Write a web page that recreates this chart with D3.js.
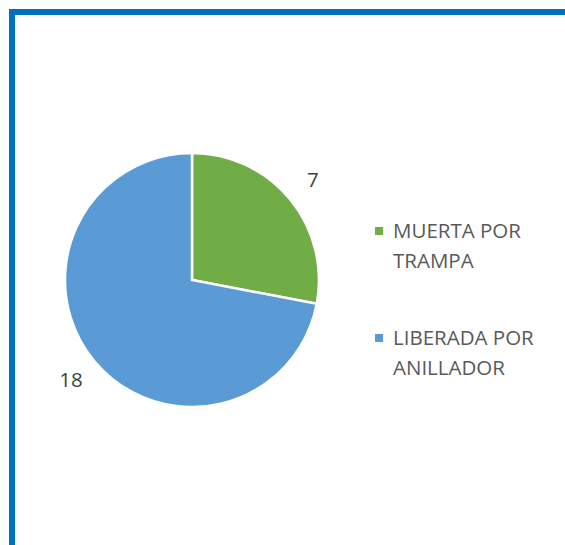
<!DOCTYPE html>
<html><head><meta charset="utf-8">
<script src="https://cdn.jsdelivr.net/npm/d3@7"></script>
<style>body{margin:0;background:#fff}svg{display:block}</style>
</head><body>
<svg id="c" width="565" height="545"></svg>
<script>
const categories = ["MUERTA POR TRAMPA", "LIBERADA POR ANILLADOR"];
const legendLines = [["MUERTA POR", "TRAMPA"], ["LIBERADA POR", "ANILLADOR"]];
const values = [7, 18];
const colors = ["#70AD47", "#5B9BD5"];

const svg = d3.select("#c");
svg.append("rect").attr("x", 12).attr("y", 12).attr("width", 600).attr("height", 600)
  .attr("fill", "none").attr("stroke", "#0070C0").attr("stroke-width", 6);

const cx = 192, cy = 280, r = 127;
const g = svg.append("g").attr("transform", `translate(${cx},${cy})`);
const pie = d3.pie().sort(null).value(d => d);
const arcs = pie(values);
const arc = d3.arc().innerRadius(0).outerRadius(r);
g.selectAll("path").data(arcs).join("path")
  .attr("d", arc).attr("fill", (d, i) => colors[i])
  .attr("stroke", "#fff").attr("stroke-width", 2.5).attr("stroke-linejoin", "miter");

const labelArc = d3.arc().innerRadius(157).outerRadius(157);
g.selectAll("text.lbl").data(arcs).join("text").attr("class", "lbl")
  .attr("transform", d => `translate(${labelArc.centroid(d)})`)
  .attr("text-anchor", "middle").attr("dy", "0.36em")
  .attr("font-family", "Open Sans, sans-serif").attr("font-size", 20.5)
  .attr("fill", "#404040").text(d => d.data);

const lg = svg.append("g");
const ly = [238, 345];
categories.forEach((c, i) => {
  lg.append("rect").attr("x", 375).attr("y", ly[i] - 11).attr("width", 8).attr("height", 8).attr("fill", colors[i]);
  const t = lg.append("text").attr("x", 393).attr("y", ly[i])
    .attr("font-family", "Open Sans, sans-serif").attr("font-size", 20.5).attr("fill", "#595959");
  legendLines[i].forEach((l, j) => t.append("tspan").attr("x", 393).attr("dy", j ? 29.5 : 0).text(l));
});
</script>
</body></html>
